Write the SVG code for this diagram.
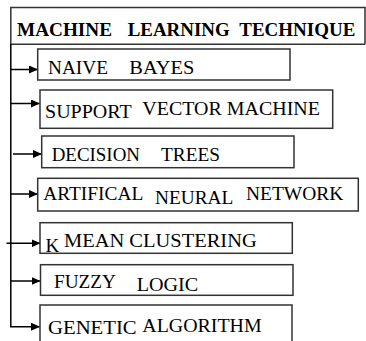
<svg xmlns="http://www.w3.org/2000/svg" width="366" height="341" viewBox="0 0 366 341">
<defs>
<marker id="ah" markerWidth="9" markerHeight="8" refX="8.5" refY="4" orient="auto" markerUnits="userSpaceOnUse">
<path d="M0,0 L9,4 L0,8 Z" fill="#000"/>
</marker>
<style>
.box{fill:#fff;stroke:#333;stroke-width:1.5}
.c{fill:none;stroke:#000;stroke-width:1.5}
text{font-family:"Liberation Serif","Times New Roman",serif;font-size:19px;fill:#000}
.h{font-weight:bold}
</style>
</defs>
<rect width="366" height="341" fill="#fff"/>
<g id="header">
<path d="M365,44.3 V7.5 H10.8 V44.3 H365" fill="none" stroke="#333" stroke-width="1.5"/>
<text class="h" x="17" y="36" textLength="95" lengthAdjust="spacingAndGlyphs">MACHINE</text>
<text class="h" x="127.7" y="36" textLength="102" lengthAdjust="spacingAndGlyphs">LEARNING</text>
<text class="h" x="239.3" y="36" textLength="116" lengthAdjust="spacingAndGlyphs">TECHNIQUE</text>
</g>
<g id="connectors">
<path class="c" d="M10.8,44 V326.7 H33"/>
<line class="c" x1="10.8" y1="69.5" x2="37.5" y2="69.5" marker-end="url(#ah)"/>
<line class="c" x1="10.8" y1="103.5" x2="39.5" y2="103.5" marker-end="url(#ah)"/>
<line class="c" x1="13" y1="154" x2="41.5" y2="154" marker-end="url(#ah)"/>
<line class="c" x1="10.8" y1="194" x2="37.5" y2="194" marker-end="url(#ah)"/>
<line class="c" x1="6.5" y1="243.3" x2="40" y2="243.3" marker-end="url(#ah)"/>
<line class="c" x1="10.8" y1="281" x2="40" y2="281" marker-end="url(#ah)"/>
<line class="c" x1="32" y1="326.7" x2="39.5" y2="326.7" marker-end="url(#ah)"/>
</g>
<g id="naive-bayes">
<rect class="box" x="37.7" y="49" width="252.3" height="31"/>
<text x="48" y="74" textLength="60" lengthAdjust="spacingAndGlyphs">NAIVE</text>
<text x="129.3" y="74" textLength="65" lengthAdjust="spacingAndGlyphs">BAYES</text>
</g>
<g id="svm">
<rect class="box" x="40" y="90" width="292.7" height="38.3"/>
<text x="45" y="118.3" textLength="86.7" lengthAdjust="spacingAndGlyphs">SUPPORT</text>
<text x="142.3" y="115" textLength="177.7" lengthAdjust="spacingAndGlyphs">VECTOR MACHINE</text>
</g>
<g id="decision-trees">
<rect class="box" x="41.7" y="136" width="252.3" height="31.7"/>
<text x="51.7" y="160.7" textLength="88.3" lengthAdjust="spacingAndGlyphs">DECISION</text>
<text x="161" y="160.7" textLength="59" lengthAdjust="spacingAndGlyphs">TREES</text>
</g>
<g id="ann">
<rect class="box" x="37.7" y="178.3" width="320.6" height="32.7"/>
<text x="43.3" y="200" textLength="100" lengthAdjust="spacingAndGlyphs">ARTIFICAL</text>
<text x="155" y="204" textLength="78.3" lengthAdjust="spacingAndGlyphs">NEURAL</text>
<text x="246" y="200" textLength="97.3" lengthAdjust="spacingAndGlyphs">NETWORK</text>
</g>
<g id="k-mean">
<rect class="box" x="40" y="222.7" width="252.3" height="30.6"/>
<text x="45.5" y="251.5">K</text>
<text x="64" y="246.7" textLength="192.7" lengthAdjust="spacingAndGlyphs">MEAN  CLUSTERING</text>
</g>
<g id="fuzzy-logic">
<rect class="box" x="40.5" y="264.7" width="252.5" height="30.6"/>
<text x="54" y="288.3" textLength="62" lengthAdjust="spacingAndGlyphs">FUZZY</text>
<text x="136.7" y="290.7" textLength="61.6" lengthAdjust="spacingAndGlyphs">LOGIC</text>
</g>
<g id="genetic-algorithm">
<rect class="box" x="40" y="305" width="252" height="50"/>
<text x="48" y="334" textLength="88.7" lengthAdjust="spacingAndGlyphs">GENETIC</text>
<text x="142.3" y="331.7" textLength="119.4" lengthAdjust="spacingAndGlyphs">ALGORITHM</text>
</g>
</svg>
